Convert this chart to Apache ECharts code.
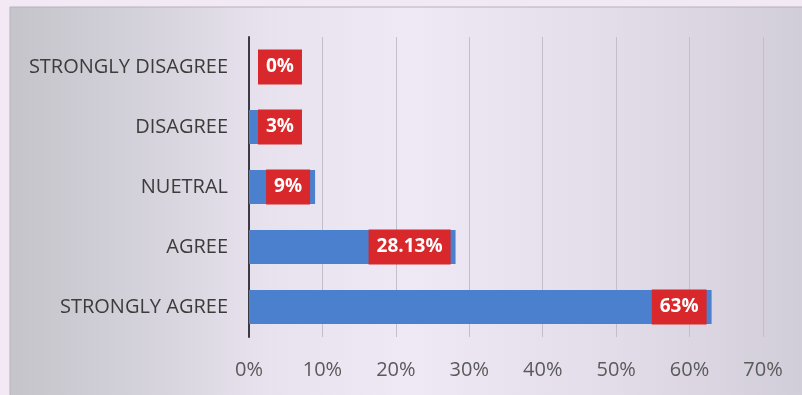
<!DOCTYPE html>
<html>
<head>
<meta charset="utf-8">
<script src="https://cdn.jsdelivr.net/npm/echarts@6/dist/echarts.min.js"></script>
<style>
  html, body { margin: 0; padding: 0; background: #f2e9f5; }
  #chart { width: 802px; height: 395px; }
</style>
</head>
<body>
<div id="chart"></div>
<script>
// Survey responses, listed top to bottom as shown on the chart
const categories = ['STRONGLY DISAGREE', 'DISAGREE', 'NUETRAL', 'AGREE', 'STRONGLY AGREE'];
const shares = [0, 3, 9, 28.13, 63];
const valueLabels = ['0%', '3%', '9%', '28.13%', '63%'];
const xTicks = [0, 10, 20, 30, 40, 50, 60, 70];

const chart = echarts.init(document.getElementById('chart'), null, { renderer: 'canvas' });

// y axis is inverse so the first category sits at the top;
// very short bars get their label pushed off the axis line
const barData = shares.map((v, i) => {
  const shortBar = v < 5;
  return {
    value: v,
    label: {
      position: shortBar ? 'insideLeft' : 'insideRight',
      distance: shortBar ? 9 : 5,
      formatter: valueLabels[i]
    }
  };
});

chart.setOption({
  animation: false,
  graphic: [{
    type: 'rect',
    z: -10,
    silent: true,
    shape: { x: 10, y: 7, width: 800, height: 400 },
    style: {
      fill: new echarts.graphic.LinearGradient(0, 0, 1, 0, [
        { offset: 0, color: '#c5c4cb' },
        { offset: 0.15, color: '#d2d0d8' },
        { offset: 0.32, color: '#e8e2ee' },
        { offset: 0.5, color: '#efe8f5' },
        { offset: 0.75, color: '#e3dde9' },
        { offset: 1, color: '#d1cdd8' }
      ]),
      stroke: '#b5b2bc',
      lineWidth: 1
    }
  }],
  grid: { left: 249, right: 39, top: 37, bottom: 58, containLabel: false },
  xAxis: {
    type: 'value',
    min: xTicks[0],
    max: xTicks[xTicks.length - 1],
    interval: 10,
    axisLine: { show: false },
    axisTick: { show: false },
    splitLine: { show: true, lineStyle: { color: '#c3bfc9', width: 1 } },
    axisLabel: {
      margin: 23,
      color: '#5a5a5a',
      fontFamily: 'Open Sans',
      fontSize: 20,
      formatter: v => v + '%'
    }
  },
  yAxis: {
    type: 'category',
    inverse: true,
    data: categories,
    axisLine: { show: true, lineStyle: { color: '#3a3a40', width: 2 } },
    axisTick: { show: false },
    axisLabel: {
      margin: 21,
      color: '#3c3c3c',
      fontFamily: 'Open Sans',
      fontSize: 20
    }
  },
  series: [{
    type: 'bar',
    data: barData,
    barWidth: 34,
    itemStyle: { color: '#4b80cf' },
    label: {
      show: true,
      color: '#ffffff',
      fontFamily: 'Open Sans',
      fontWeight: 'bold',
      fontSize: 19,
      lineHeight: 21,
      backgroundColor: '#d8282b',
      padding: [7, 8]
    }
  }]
});
</script>
</body>
</html>
